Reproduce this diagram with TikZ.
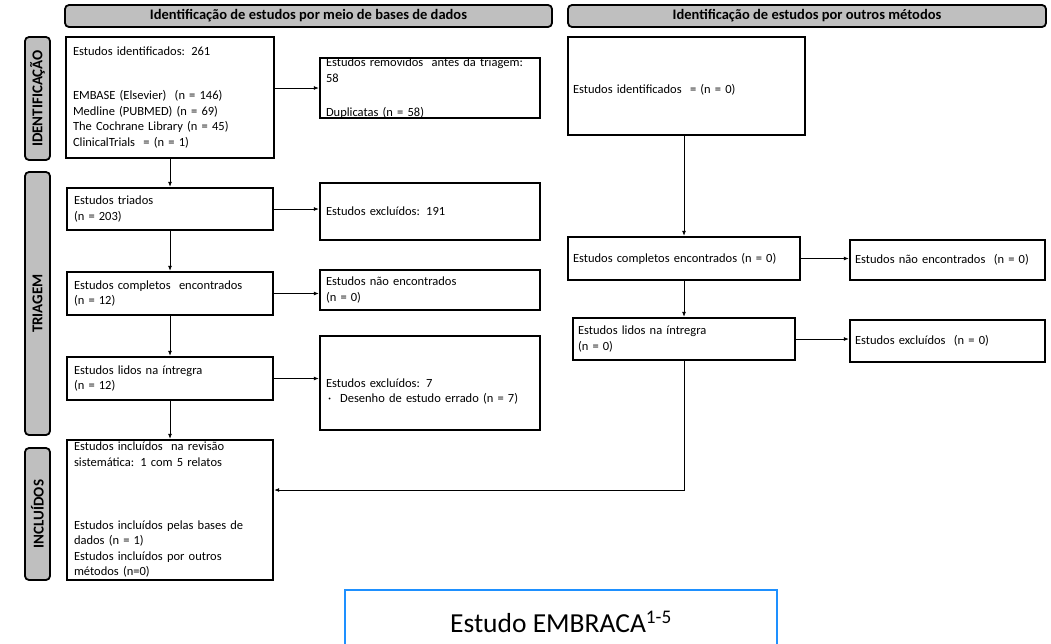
\documentclass[tikz,border=0pt]{standalone}
\usepackage{fontspec}
\setmainfont{Carlito}
\usetikzlibrary{arrows.meta}

\definecolor{cinza}{RGB}{191,191,191}
\definecolor{azul}{RGB}{30,144,255}

\tikzstyle{caixa}=[draw, line width=2.4pt, align=left, inner sep=0pt,
	font=\fontsize{12.5}{15.5}\selectfont]
\tikzstyle{cabecalho}=[draw, fill=cinza, line width=1.8pt, rounded corners=4pt,
	inner sep=0pt, font=\fontsize{14.5}{16}\selectfont\bfseries]
\tikzstyle{lateral}=[draw, fill=cinza, line width=1.8pt, rounded corners=4pt,
	inner sep=0pt, rotate=90, font=\fontsize{15}{16}\selectfont\bfseries]
\tikzstyle{seta}=[-{Latex[length=5pt,width=4pt]}, line width=0.8pt]

\begin{document}
\begin{tikzpicture}[x=1pt,y=-1pt]
	\clip (0,0) rectangle (1051,643);
	\useasboundingbox (0,0) rectangle (1051,643);
%
	\node[cabecalho, minimum width=487pt, minimum height=22pt] (cab1) at (308.5,16)
		{Identificação de estudos por meio de bases de dados};
	\node[cabecalho, minimum width=478pt, minimum height=22pt] (cab2) at (807,16)
		{Identificação de estudos por outros métodos};
	\node[lateral, minimum width=123pt, minimum height=25pt] (lat1) at (37.5,98.5) {IDENTIFICAÇÃO};
	\node[lateral, minimum width=263pt, minimum height=25pt] (lat2) at (37.5,303.5) {TRIAGEM};
	\node[lateral, minimum width=132pt, minimum height=25pt] (lat3) at (37.5,514) {INCLUÍDOS};
%
	\node[caixa, minimum width=208pt, minimum height=121pt, text width=194pt] (ident) at (170,97.5)
		{Estudos identificados: 261\\[28.5pt]
		EMBASE (Elsevier)~ (n = 146)\\
		Medline (PUBMED) (n = 69)\\
		The Cochrane Library (n = 45)\\
		ClinicalTrials~ = (n = 1)};
	\node[caixa, minimum width=220pt, minimum height=60pt, text width=208pt] (remov) at (430,88)
		{Estudos removidos~ antes da triagem:\\
		58\\[18.5pt]
		Duplicatas (n = 58)};
	\node[caixa, minimum width=206pt, minimum height=42pt, text width=192pt] (triad) at (170,209)
		{Estudos triados\\(n = 203)};
	\node[caixa, minimum width=220pt, minimum height=57pt, text width=208pt] (excl1) at (430,211.5)
		{Estudos excluídos: 191};
	\node[caixa, minimum width=206pt, minimum height=43pt, text width=192pt] (compl) at (170,293.5)
		{Estudos completos~ encontrados\\(n = 12)};
	\node[caixa, minimum width=220pt, minimum height=40pt, text width=208pt] (naoenc) at (430,290)
		{Estudos não encontrados\\(n = 0)};
	\node[caixa, minimum width=206pt, minimum height=43pt, text width=192pt] (lidos) at (170,378.5)
		{Estudos lidos na íntregra\\(n = 12)};
	\node[caixa, minimum width=220pt, minimum height=94pt, text width=208pt] (excl2) at (430,383)
		{\mbox{}\\[10pt]
		Estudos excluídos: 7\\
		\hspace*{2pt}·\hspace{9pt}Desenho de estudo errado (n = 7)};
	\node[caixa, minimum width=206pt, minimum height=140pt, text width=192pt] (incl) at (170,510)
		{Estudos incluídos~ na revisão\\
		sistemática: 1 com 5 relatos\\[47.5pt]
		Estudos incluídos pelas bases de\\
		dados (n = 1)\\
		Estudos incluídos por outros\\
		métodos (n=0)};
%
	\node[caixa, minimum width=237pt, minimum height=98pt, text width=227pt] (ident2) at (686.5,86)
		{\mbox{}\\[1.5pt]Estudos identificados~ = (n = 0)};
	\node[caixa, minimum width=232pt, minimum height=43pt, text width=222pt] (compl2) at (684,258.5)
		{Estudos completos encontrados (n = 0)};
	\node[caixa, minimum width=195pt, minimum height=40pt, text width=185pt] (naoenc2) at (947.5,260)
		{Estudos não encontrados~ (n = 0)};
	\node[caixa, minimum width=222pt, minimum height=42pt, text width=212pt] (lidos2) at (684,339)
		{Estudos lidos na íntregra\\(n = 0)};
	\node[caixa, minimum width=195pt, minimum height=42pt, text width=185pt] (excl3) at (947.5,341)
		{Estudos excluídos~ (n = 0)};
%
	\node[draw=azul, line width=1.4pt, minimum width=432pt, minimum height=64pt,
		font=\fontsize{27.5}{30}\selectfont] (embraca) at (561,622)
		{Estudo EMBRACA\textsuperscript{1-5}};
	\coordinate (volta) at (684,490);
%
	\draw[seta] (ident.east |- remov.west) -- (remov.west);
	\draw[seta] (ident.south) -- (triad.north);
	\draw[seta] (triad.east) -- (triad.east -| excl1.west);
	\draw[seta] (triad.south) -- (compl.north);
	\draw[seta] (compl.east) -- (compl.east -| naoenc.west);
	\draw[seta] (compl.south) -- (lidos.north);
	\draw[seta] (lidos.east) -- (lidos.east -| excl2.west);
	\draw[seta] (lidos.south) -- (incl.north);
%
	\draw[seta] (compl2.north |- ident2.south) -- (compl2.north);
	\draw[seta] (compl2.east) -- (compl2.east -| naoenc2.west);
	\draw[seta] (compl2.south) -- (lidos2.north);
	\draw[seta] (lidos2.east) -- (lidos2.east -| excl3.west);
	\draw[seta] (lidos2.south) |- (volta -| incl.east);
\end{tikzpicture}
\end{document}
